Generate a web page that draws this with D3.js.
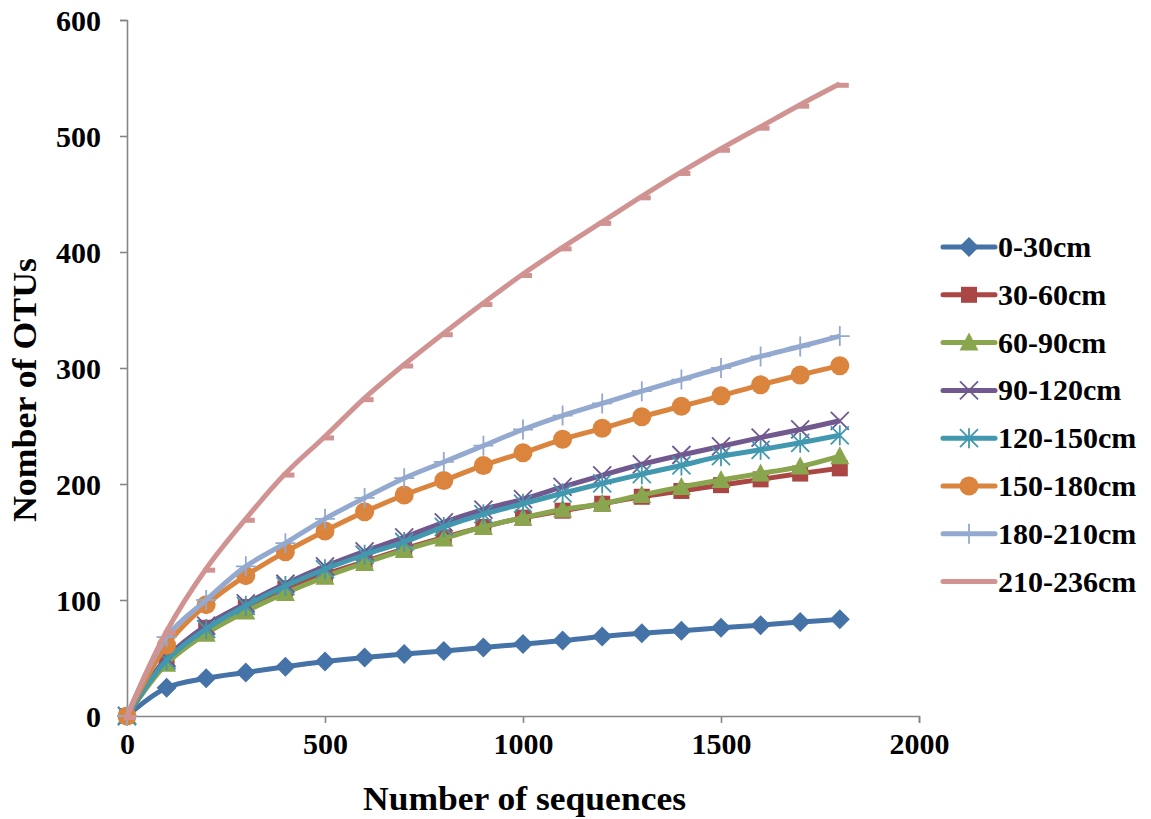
<!DOCTYPE html>
<html>
<head>
<meta charset="utf-8">
<script src="https://cdn.jsdelivr.net/npm/d3@7"></script>
<style>
  html, body { margin: 0; padding: 0; background: #fff; }
  svg { display: block; }
  text { font-family: "Liberation Serif", "Times New Roman", serif; font-weight: bold; fill: #000; }
</style>
</head>
<body>
<svg id="chart" width="1151" height="819"></svg>
<script>
// Rarefaction curves: observed OTUs against number of sequences, per soil depth layer
const sequences = [0, 100, 200, 300, 400, 500, 600, 700, 800, 900, 1000, 1100, 1200, 1300, 1400, 1500, 1600, 1700, 1800];

const depth0_30    = [0, 24.4, 32.5, 37.5, 42.5, 47, 50.5, 53.5, 56, 59, 62, 65, 68.5, 71.3, 73.5, 76, 78.3, 81, 83.3];
const depth30_60   = [0, 47, 76, 94, 110, 122, 133, 144, 154, 163, 171, 177, 183, 189, 194, 199, 204, 209, 213.5];
const depth60_90   = [0, 45, 71, 90, 106, 120, 132, 143, 153, 163, 171, 178, 183, 190.5, 197.5, 203.5, 209, 215, 224];
const depth90_120  = [0, 50, 78, 97, 114, 129, 142, 154, 167, 178, 187, 197.5, 207.5, 217, 225, 232.5, 240, 247, 254.5];
const depth120_150 = [0, 48, 75, 95, 112, 126.5, 139, 150, 163, 174, 183, 192, 200.5, 208.5, 216, 224, 229.5, 235.5, 242];
const depth150_180 = [0, 61, 96, 121, 141.5, 159.5, 176, 190.5, 203, 216, 227, 238.5, 248, 258, 267, 276, 285.5, 294, 302];
const depth180_210 = [0, 68, 100, 129, 149, 170, 188, 205, 219, 233, 247, 259, 269.5, 280, 290, 300, 310, 318.5, 327.5];
const depth210_236 = [0, 73, 127, 170, 209, 241, 274, 303, 330, 356, 381, 404, 426, 448, 469, 489, 508, 527, 545];

const seriesNames = ["0-30cm", "30-60cm", "60-90cm", "90-120cm", "120-150cm", "150-180cm", "180-210cm", "210-236cm"];
const seriesValues = [depth0_30, depth30_60, depth60_90, depth90_120, depth120_150, depth150_180, depth180_210, depth210_236];
const seriesColors = ["#4572A7", "#AA4643", "#89A54E", "#71588F", "#4198AF", "#DB843D", "#93A9CF", "#D19392"];
const seriesMarkers = ["diamond", "square", "triangle", "x", "asterisk", "circle", "plus", "dash"];

const xTicks = [0, 500, 1000, 1500, 2000];
const yTicks = [0, 100, 200, 300, 400, 500, 600];

const svg = d3.select("#chart");
const plot = { left: 127, right: 919, top: 20, bottom: 716 };

const x = d3.scaleLinear().domain([0, 2000]).range([plot.left, plot.right]);
const y = d3.scaleLinear().domain([0, 600]).range([plot.bottom, plot.top]);

// Axes
const xAxis = d3.axisBottom(x).tickValues(xTicks).tickSize(7).tickPadding(10).tickFormat(d3.format("d"));
const yAxis = d3.axisLeft(y).tickValues(yTicks).tickSize(7).tickPadding(19).tickFormat(d3.format("d"));

const gx = svg.append("g").attr("transform", `translate(0,${plot.bottom})`).call(xAxis);
const gy = svg.append("g").attr("transform", `translate(${plot.left},0)`).call(yAxis);

[gx, gy].forEach(g => {
  g.select(".domain").attr("stroke", "#868686").attr("stroke-width", 1.6);
  g.selectAll(".tick line").attr("stroke", "#868686").attr("stroke-width", 1.6);
  g.selectAll(".tick text")
    .style("font-family", '"Liberation Serif", "Times New Roman", serif')
    .style("font-weight", "bold")
    .style("font-size", "30px")
    .attr("fill", "#000");
});
gy.selectAll(".tick text").attr("dy", "0.34em");

// Axis titles
svg.append("text")
  .attr("x", (363 + 686) / 2).attr("y", 810)
  .attr("text-anchor", "middle")
  .attr("textLength", 323).attr("lengthAdjust", "spacingAndGlyphs")
  .style("font-size", "34px")
  .text("Number of sequences");

svg.append("text")
  .attr("transform", "translate(36,390) rotate(-90)")
  .attr("text-anchor", "middle")
  .attr("textLength", 264).attr("lengthAdjust", "spacingAndGlyphs")
  .style("font-size", "34px")
  .text("Nomber of OTUs");

// Marker shapes
function drawMarker(g, type, color) {
  switch (type) {
    case "diamond":
      g.append("path").attr("d", "M0,-10L10,0L0,10L-10,0Z").attr("fill", color);
      break;
    case "square":
      g.append("rect").attr("x", -8).attr("y", -8).attr("width", 16).attr("height", 16).attr("fill", color);
      break;
    case "triangle":
      g.append("path").attr("d", "M0,-10L9.5,8L-9.5,8Z").attr("fill", color);
      break;
    case "x":
      g.append("path").attr("d", "M-9,-9L9,9M-9,9L9,-9").attr("stroke", color).attr("stroke-width", 1.8).attr("fill", "none");
      break;
    case "asterisk":
      g.append("path").attr("d", "M-9,-9L9,9M-9,9L9,-9M0,-10L0,10").attr("stroke", color).attr("stroke-width", 1.8).attr("fill", "none");
      break;
    case "circle":
      g.append("circle").attr("r", 9.5).attr("fill", color);
      break;
    case "plus":
      g.append("path").attr("d", "M-10,0L10,0M0,-10L0,10").attr("stroke", color).attr("stroke-width", 1.8).attr("fill", "none");
      break;
    case "dash":
      g.append("rect").attr("x", -3).attr("y", -1).attr("width", 12).attr("height", 5).attr("fill", color);
      break;
  }
}

const line = d3.line()
  .x((d, i) => x(sequences[i]))
  .y(d => y(d))
  .curve(d3.curveCatmullRom.alpha(0.5));

// Series: draw lines and markers layer by layer
seriesValues.forEach((vals, s) => {
  const g = svg.append("g");
  g.append("path")
    .datum(vals)
    .attr("d", line)
    .attr("fill", "none")
    .attr("stroke", seriesColors[s])
    .attr("stroke-width", 5)
    .attr("stroke-linejoin", "round");
  vals.forEach((v, i) => {
    const m = g.append("g").attr("transform", `translate(${x(sequences[i])},${y(v)})`);
    drawMarker(m, seriesMarkers[s], seriesColors[s]);
  });
});

// Legend
const legend = svg.append("g");
seriesNames.forEach((name, s) => {
  const cy = 247 + s * 47.8;
  const item = legend.append("g");
  item.append("line")
    .attr("x1", 943).attr("x2", 995).attr("y1", cy).attr("y2", cy)
    .attr("stroke", seriesColors[s]).attr("stroke-width", 5).attr("stroke-linecap", "round");
  const m = item.append("g").attr("transform", `translate(969,${cy})`);
  if (seriesMarkers[s] !== "dash") drawMarker(m, seriesMarkers[s], seriesColors[s]);
  item.append("text")
    .attr("x", 998).attr("y", cy + 10)
    .style("font-size", "30px")
    .text(name);
});
</script>
</body>
</html>
